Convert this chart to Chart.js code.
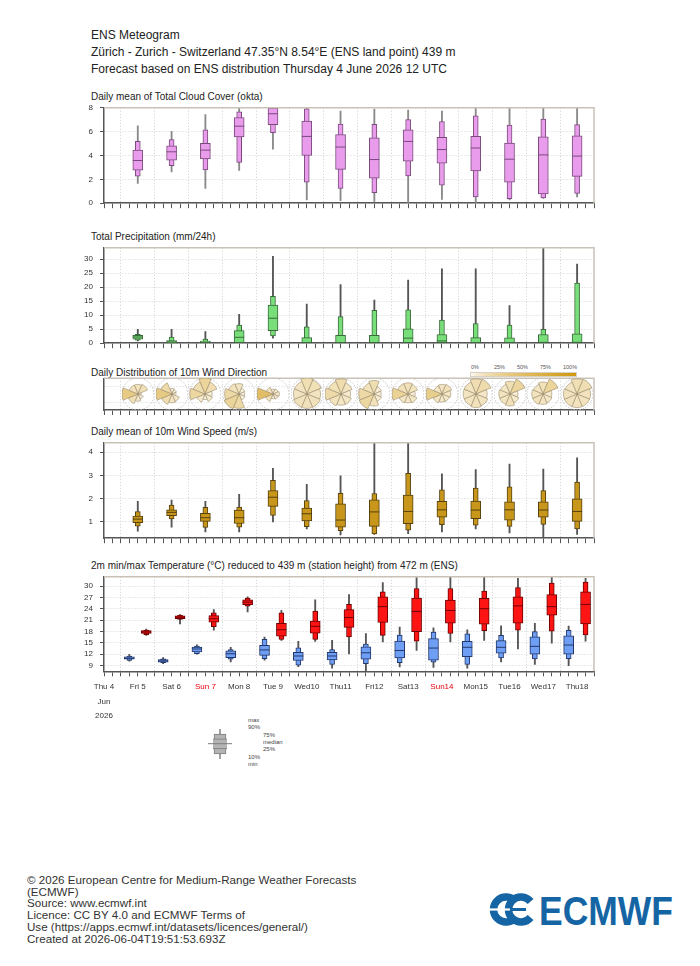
<!DOCTYPE html>
<html><head><meta charset="utf-8">
<script src="https://cdn.jsdelivr.net/npm/chart.js@4/dist/chart.umd.min.js"></script>
<style>
body{margin:0;background:#fff;width:700px;height:966px;position:relative;overflow:hidden;font-family:"Liberation Sans",Arial,Helvetica,sans-serif;color:#222}
.t{position:absolute;white-space:nowrap}
canvas{position:absolute}
</style></head><body>
<div class="t" style="left:91px;top:28px;font-size:12px;line-height:14px">ENS Meteogram</div>
<div class="t" style="left:91px;top:45px;font-size:12px;line-height:14px">Zürich - Zurich - Switzerland 47.35°N 8.54°E (ENS land point) 439 m</div>
<div class="t" style="left:91px;top:62px;font-size:12px;line-height:14px">Forecast based on ENS distribution Thursday 4 June 2026 12 UTC</div>

<div class="t" style="left:91px;top:91px;font-size:10px;line-height:12px">Daily mean of Total Cloud Cover (okta)</div>
<div class="t" style="left:91px;top:231px;font-size:10px;line-height:12px">Total Precipitation (mm/24h)</div>
<div class="t" style="left:91px;top:367px;font-size:10px;line-height:12px">Daily Distribution of 10m Wind Direction</div>
<div class="t" style="left:91px;top:426px;font-size:10px;line-height:12px">Daily mean of 10m Wind Speed (m/s)</div>
<div class="t" style="left:91px;top:560px;font-size:10px;line-height:12px">2m min/max Temperature (°C) reduced to 439 m (station height) from 472 m (ENS)</div>

<!-- wind direction colour legend -->
<div id="cbar" style="position:absolute;left:470px;top:372px;width:105px;height:3px;border:0.5px solid #d8d0c0"></div>
<div class="t" style="left:471px;top:364px;font-size:5.5px;line-height:6px;color:#555">0%</div>
<div class="t" style="left:494px;top:364px;font-size:5.5px;line-height:6px;color:#555">25%</div>
<div class="t" style="left:517px;top:364px;font-size:5.5px;line-height:6px;color:#555">50%</div>
<div class="t" style="left:540px;top:364px;font-size:5.5px;line-height:6px;color:#555">75%</div>
<div class="t" style="left:563px;top:364px;font-size:5.5px;line-height:6px;color:#555">100%</div>

<!-- box legend labels -->
<div class="t" style="left:248px;top:717px;font-size:6px;line-height:6px;color:#444">max</div>
<div class="t" style="left:248px;top:724px;font-size:6px;line-height:6px;color:#444">90%</div>
<div class="t" style="left:263px;top:732px;font-size:6px;line-height:6px;color:#444">75%</div>
<div class="t" style="left:263px;top:739px;font-size:6px;line-height:6px;color:#444">median</div>
<div class="t" style="left:263px;top:746px;font-size:6px;line-height:6px;color:#444">25%</div>
<div class="t" style="left:248px;top:754px;font-size:6px;line-height:6px;color:#444">10%</div>
<div class="t" style="left:248px;top:761px;font-size:6px;line-height:6px;color:#444">min</div>

<div class="t" style="left:27px;top:874px;font-size:11.6px;line-height:11.7px;color:#333">© 2026 European Centre for Medium-Range Weather Forecasts<br>(ECMWF)<br>Source: www.ecmwf.int<br>Licence: CC BY 4.0 and ECMWF Terms of<br>Use (https://apps.ecmwf.int/datasets/licences/general/)<br>Created at 2026-06-04T19:51:53.693Z</div>

<svg style="position:absolute;left:488px;top:890px" width="190" height="40" viewBox="0 0 190 40">
<g fill="none" stroke="#1565a5" stroke-width="7.5">
<path d="M27.6 11.5 A12.5 12.5 0 1 0 27.6 27.5"/>
<path d="M42.6 11.5 A12.5 12.5 0 1 0 42.6 27.5"/>
</g>
<line x1="1" y1="19.5" x2="22" y2="19.5" stroke="#fff" stroke-width="2.2"/>
<line x1="22" y1="19.5" x2="38" y2="19.5" stroke="#1565a5" stroke-width="3"/>
<text x="51" y="35" font-family="Liberation Sans, Arial" font-weight="bold" font-size="40" fill="#1565a5" textLength="134" lengthAdjust="spacingAndGlyphs">ECMWF</text>
</svg>

<script>
// ---------------- DATA ----------------
const dayLabels = ['Thu 4','Fri 5','Sat 6','Sun 7','Mon 8','Tue 9','Wed10','Thu11','Fri12','Sat13','Sun14','Mon15','Tue16','Wed17','Thu18'];
const monthLabel = 'Jun';
const yearLabel = '2026';
// time in days after Thu 4 June 12 UTC
const boxDays  = [1,2,3,4,5,6,7,8,9,10,11,12,13,14];
const tminTimes = [0.75,1.75,2.75,3.75,4.75,5.75,6.75,7.75,8.75,9.75,10.75,11.75,12.75,13.75];
const tmaxTimes = [1.25,2.25,3.25,4.25,5.25,6.25,7.25,8.25,9.25,10.25,11.25,12.25,13.25,14.25];

const cloudMin = [1.65,2.62,1.23,2.75,4.53,0.27,0.21,0.15,0.0,0.32,0.05,0.27,0.4,0.53];
const cloudP10 = [2.27,3.14,2.8,3.43,5.91,1.76,1.23,0.89,2.28,1.52,0.53,0.39,0.45,0.81];
const cloudP25 = [2.78,3.61,3.72,5.55,6.59,4.0,2.83,2.09,3.53,3.35,2.7,1.76,0.78,2.25];
const cloudMed = [3.58,4.31,4.45,6.46,7.5,5.6,4.71,3.66,5.18,4.5,4.63,3.69,4.05,3.95];
const cloudP75 = [4.45,4.81,5.02,7.19,7.98,6.88,5.76,5.49,6.15,5.52,5.6,5.05,5.57,5.65];
const cloudP90 = [5.18,5.33,6.15,7.66,8.0,7.92,6.64,6.62,7.01,6.85,7.32,6.56,7.06,6.59];
const cloudMax = [6.49,6.02,7.43,8.0,8.0,8.0,7.72,7.9,7.8,7.72,8.0,7.95,8.0,8.0];

const precMin = [0.8,0,0,0,1.8,0,0,0,0,0,0,0,0,0];
const precP10 = [1.1,0,0,0,2.6,0,0,0,0,0,0,0,0,0];
const precP25 = [1.4,0.05,0,0,4.5,0,0,0,0,0,0,0,0,0];
const precMed = [2.2,0.4,0.3,2.1,8.9,0.2,0.2,0.2,1.8,0.8,0.2,0.2,0.3,0.3];
const precP75 = [2.8,0.9,0.8,4.5,13.6,2.0,2.8,2.8,5.1,3.1,2.0,1.9,3.1,3.3];
const precP90 = [3.2,2.2,1.5,6.5,16.7,5.8,9.5,11.7,11.9,8.2,7.0,6.5,4.9,21.4];
const precMax = [4.9,4.9,4.1,10.3,31.0,13.9,20.9,15.4,22.5,26.5,26.5,13.4,34.0,28.2];

const wsMin = [0.6,0.77,0.57,0.57,1.0,0.7,0.44,0.46,0.5,0.57,0.7,0.53,0.3,0.46];
const wsP10 = [0.82,1.13,0.76,0.77,1.28,0.8,0.62,0.48,0.64,0.88,0.86,0.81,0.89,0.7];
const wsP25 = [0.97,1.27,1.02,0.93,1.67,1.04,0.77,0.81,0.92,1.2,1.14,1.08,1.2,1.02];
const wsMed = [1.12,1.41,1.18,1.18,2.06,1.35,1.08,1.43,1.45,1.52,1.51,1.52,1.51,1.45];
const wsP75 = [1.25,1.52,1.37,1.51,2.35,1.59,1.78,1.95,2.15,1.88,1.9,1.86,1.86,1.99];
const wsP90 = [1.44,1.72,1.63,1.64,2.79,1.92,2.23,2.22,3.09,2.38,2.45,2.51,2.35,2.71];
const wsMax = [1.88,1.94,1.88,2.19,3.3,2.61,2.98,4.4,4.4,3.07,3.25,3.49,3.27,3.75];

const tnMin = [10.2,9.5,12.0,10.0,10.45,8.75,8.3,7.0,8.65,8.5,8.3,10.0,9.35,9.0];
const tnP10 = [10.4,9.77,12.15,10.7,10.85,9.15,9.3,9.5,9.8,9.9,9.3,11.05,10.8,10.85];
const tnP25 = [10.7,9.93,12.65,11.1,11.7,10.35,10.5,10.7,11.05,10.45,11.4,12.3,12.05,12.05];
const tnMed = [10.95,10.27,13.4,12.15,13.15,11.55,11.55,12.4,13.0,13.65,13.85,13.85,14.1,14.45];
const tnP75 = [11.3,10.6,13.9,12.9,14.4,12.55,12.55,14.0,15.5,16.15,15.4,15.6,16.65,16.9];
const tnP90 = [11.55,10.8,14.2,13.25,15.95,13.7,13.25,14.7,17.1,17.9,17.4,17.0,18.0,18.35];
const tnMax = [11.96,11.1,14.5,13.85,16.55,15.4,15.7,17.5,19.2,19.0,18.5,19.55,20.2,19.45];

const txMin = [17.0,20.05,18.35,23.2,15.7,15.4,12.1,15.3,13.0,15.3,15.7,13.4,14.95,15.5];
const txP10 = [17.2,21.25,19.3,24.7,15.95,15.95,16.6,17.0,15.5,17.5,18.25,18.35,18.1,17.1];
const txP25 = [17.5,21.4,20.5,25.1,16.8,17.6,19.1,20.4,18.0,20.2,19.95,20.2,22.35,20.05];
const txMed = [17.9,21.8,21.4,25.8,18.5,19.4,21.75,24.6,23.35,23.6,24.05,24.8,24.6,25.2];
const txP75 = [18.26,22.2,22.27,26.4,20.2,20.8,23.8,27.2,26.9,26.35,26.8,27.2,27.8,28.55];
const txP90 = [18.4,22.35,23.0,26.9,23.0,23.4,25.2,28.5,29.4,29.4,28.7,29.65,30.85,31.1];
const txMax = [18.7,22.5,23.8,27.2,23.6,26.4,27.8,31.0,32.3,32.5,32.5,32.1,32.5,32.1];

// wind direction frequency (%) per sector, one value per day
const dirLabels = ['N','NE','E','SE','S','SW','W','NW'];
const dirN  = [12.3,4.3,24.6,10.6,4.4,15.4,17.5,16.2,13.5,11.1,15.9,15.2,13.9,14.7];
const dirNE = [14.4,3.1,15.8,4.0,6.0,13.9,10.9,5.6,11.6,13.0,17.6,23.7,24.7,16.2];
const dirE  = [1.4,2.2,5.0,3.1,7.9,11.1,7.0,4.5,5.6,9.3,8.6,5.9,7.5,11.7];
const dirSE = [4.2,8.7,6.2,4.0,6.0,12.5,9.5,5.6,9.9,7.7,11.3,8.5,8.9,11.7];
const dirS  = [6.9,10.5,3.0,20.4,4.4,12.5,9.5,12.6,8.3,7.7,12.7,13.3,10.4,11.7];
const dirSW = [14.4,17.0,7.5,25.2,12.3,12.5,12.4,22.5,9.9,11.1,11.3,11.6,12.1,11.7];
const dirW  = [34.1,34.7,22.2,20.4,49.1,11.1,19.3,20.3,27.6,30.8,11.3,11.6,12.1,11.7];
const dirNW = [12.3,19.5,15.8,12.3,9.9,11.1,14.0,12.6,13.5,9.3,11.3,10.0,10.4,10.4];

// legend box quantiles (illustrative)
const legendQuantiles = [0,17,34,51,67,83,100];

// tick sets
const cloudTicks = [0,2,4,6,8];
const precTicks = [0,5,10,15,20,25,30];
const wsTicks = [1,2,3,4];
const tempTicks = [9,12,15,18,21,24,27,30];

// ---------------- CHARTS ----------------
const FAMILY = '"Liberation Sans", Arial, Helvetica, sans-serif';
Chart.defaults.font.family = FAMILY;
Chart.defaults.animation = false;
Chart.defaults.responsive = false;
Chart.defaults.maintainAspectRatio = false;
Chart.defaults.plugins.legend.display = false;
Chart.defaults.plugins.tooltip.enabled = false;

const X_MIN = 0, X_MAX = 14.5, AREA_LEFT = 104, AREA_RIGHT = 594, W = 700;
const xTickVals = [];
for (let q = 0; q <= X_MAX * 4; q++) xTickVals.push(q / 4);

function makeCanvas(left, top, w, h) {
  const c = document.createElement('canvas');
  c.width = w; c.height = h;
  c.style.left = left + 'px'; c.style.top = top + 'px';
  c.style.width = w + 'px'; c.style.height = h + 'px';
  document.body.appendChild(c);
  return c;
}

const framePlugin = {
  id: 'frame',
  afterDraw(chart) {
    const {ctx, chartArea: a} = chart;
    ctx.save();
    ctx.strokeStyle = '#c9c2b6';
    ctx.lineWidth = 1.5;
    ctx.beginPath();
    ctx.moveTo(a.left, a.top); ctx.lineTo(a.right, a.top); ctx.lineTo(a.right, a.bottom);
    ctx.stroke();
    ctx.restore();
  }
};

function tickLabel(v) {
  const i = Math.round(v);
  if (Math.abs(v - i) > 1e-6 || i < 0 || i >= dayLabels.length) return '';
  return i === 0 ? [dayLabels[0], monthLabel, yearLabel] : dayLabels[i];
}
function isSunday(v) {
  const i = Math.round(v);
  return Math.abs(v - i) < 1e-6 && i >= 0 && i < dayLabels.length && dayLabels[i].startsWith('Sun');
}

function xScale(showLabels, axisH) {
  return {
    type: 'linear', min: X_MIN, max: X_MAX, offset: false,
    afterBuildTicks: s => { s.ticks = xTickVals.map(v => ({value: v})); },
    afterFit: s => { s.height = axisH; },
    grid: {
      offset: false, drawTicks: true, tickLength: 5, tickWidth: 1, tickColor: '#555', lineWidth: 1,
      color: c => (c.tick && Math.abs((c.tick.value % 1) - 0.5) < 1e-6 && c.tick.value < X_MAX) ? '#cfcfcf' : 'rgba(0,0,0,0)'
    },
    border: {display: true, color: '#555', width: 1.5, dash: [1, 2]},
    ticks: {
      display: showLabels, autoSkip: false, maxRotation: 0, minRotation: 0, padding: 3.5,
      font: {size: 8, lineHeight: 1.8},
      color: c => (c.tick && isSunday(c.tick.value)) ? '#e8000b' : '#333',
      callback: v => tickLabel(v)
    }
  };
}

function yScale(min, max, ticks, showLabels) {
  return {
    type: 'linear', min, max,
    afterBuildTicks: s => { s.ticks = ticks.map(v => ({value: v})); },
    afterFit: s => { s.width = AREA_LEFT; },
    grid: {color: '#d4d4d4', lineWidth: 1, drawTicks: showLabels, tickLength: 4, tickColor: '#555'},
    border: {display: true, color: '#555', width: 1.5, dash: [1, 2]},
    ticks: {display: showLabels, padding: 7, font: {size: 8}, color: '#333', callback: v => String(v)}
  };
}

function boxSets(s) {
  const pts = (lo, hi) => s.x.map((x, i) => ({x, y: [lo[i], hi[i]]}));
  return [
    {type: 'bar', data: pts(s.min, s.max), backgroundColor: s.whisker, borderWidth: 0, barThickness: s.wW || 1.2, grouped: false, order: 4},
    {type: 'bar', data: pts(s.p10, s.p90), backgroundColor: s.fill, borderColor: s.border, borderWidth: 1, borderSkipped: false, barThickness: s.oW || 5, grouped: false, order: 3},
    {type: 'bar', data: pts(s.p25, s.p75), backgroundColor: s.fill, borderColor: s.border, borderWidth: 1, borderSkipped: false, barThickness: s.iW || 10, grouped: false, order: 2},
    {type: 'line', data: s.x.map((x, i) => ({x, y: s.med[i]})), showLine: false, pointStyle: 'line',
     pointRadius: (s.iW || 10) / 2, pointHoverRadius: (s.iW || 10) / 2, pointBorderColor: s.border, pointBorderWidth: 1, order: 1}
  ];
}

function panel(o) {
  const top = Math.floor(o.areaTop) - 8;
  const H = Math.ceil(o.areaBottom - top + o.axisH);
  const axisH = H - (o.areaBottom - top);
  const cv = makeCanvas(0, top, W, H);
  const chart = new Chart(cv, {
    type: 'bar',
    data: {datasets: o.datasets},
    options: {
      layout: {padding: {top: o.areaTop - top, right: W - AREA_RIGHT, left: 0, bottom: 0}},
      scales: {
        x: xScale(!!o.showLabels, axisH),
        y: yScale(o.yMin, o.yMax, o.yTicks, o.showYLabels !== false)
      }
    },
    plugins: [framePlugin]
  });
  return {chart, top};
}

// Cloud cover
panel({areaTop: 104.7, areaBottom: 206.7, axisH: 8, yMin: 0, yMax: 8, yTicks: cloudTicks,
  datasets: boxSets({x: boxDays, min: cloudMin, p10: cloudP10, p25: cloudP25, med: cloudMed, p75: cloudP75, p90: cloudP90, max: cloudMax,
    fill: '#ea9cec', border: '#7a4a7c', whisker: '#8a8a8a'})});

// Precipitation
panel({areaTop: 244.7, areaBottom: 346.7, axisH: 8, yMin: 0, yMax: 34, yTicks: precTicks,
  datasets: boxSets({x: boxDays, min: precMin, p10: precP10, p25: precP25, med: precMed, p75: precP75, p90: precP90, max: precMax,
    fill: '#78de7a', border: '#3b6a3b', whisker: '#555'})});

// Wind direction strip
const strip = panel({areaTop: 378.3, areaBottom: 410, axisH: 8, yMin: 0, yMax: 1, yTicks: [0.25, 0.75], showYLabels: false, datasets: []});

// Wind speed
panel({areaTop: 439.7, areaBottom: 541.7, axisH: 8, yMin: 0.3, yMax: 4.4, yTicks: wsTicks,
  datasets: boxSets({x: boxDays, min: wsMin, p10: wsP10, p25: wsP25, med: wsMed, p75: wsP75, p90: wsP90, max: wsMax,
    fill: '#c8961a', border: '#55420f', whisker: '#555'})});

// Temperature
panel({areaTop: 573, areaBottom: 671.3, axisH: 52, yMin: 7.5, yMax: 32.5, yTicks: tempTicks, showLabels: true,
  datasets: boxSets({x: tminTimes, min: tnMin, p10: tnP10, p25: tnP25, med: tnMed, p75: tnP75, p90: tnP90, max: tnMax,
      fill: '#6f9ef5', border: '#23386b', whisker: '#555'})
    .concat(boxSets({x: tmaxTimes, min: txMin, p10: txP10, p25: txP25, med: txMed, p75: txP75, p90: txP90, max: txMax,
      fill: '#ff1414', border: '#6e0000', whisker: '#555'}))});

// Wind roses (sector length ~ sqrt of frequency, colour ~ frequency), placed on the strip's own x scale
const C0 = [252, 249, 241], C1 = [207, 152, 12];
function freqColor(v) {
  const t = Math.pow(Math.max(0, Math.min(1, v / 100)), 0.7);
  const c = C0.map((a, i) => Math.round(a + (C1[i] - a) * t));
  return 'rgb(' + c.join(',') + ')';
}
document.getElementById('cbar').style.background =
  'linear-gradient(to right,' + [0, 5, 12, 25, 40, 60, 80, 100].map(p => freqColor(p) + ' ' + p + '%').join(',') + ')';

const sx = strip.chart.scales.x, sca = strip.chart.chartArea;
const roseCY = strip.top + (sca.top + sca.bottom) / 2;
boxDays.forEach((d, k) => {
  const freq = [dirN[k], dirNE[k], dirE[k], dirSE[k], dirS[k], dirSW[k], dirW[k], dirNW[k]];
  const len = freq.map(Math.sqrt);
  const cx = sx.getPixelForValue(d);
  const c = makeCanvas(Math.round(cx - 16), Math.round(roseCY - 16), 32, 32);
  new Chart(c, {
    type: 'polarArea',
    data: {labels: dirLabels, datasets: [{data: len, backgroundColor: freq.map(freqColor), borderColor: 'rgba(150,135,105,0.8)', borderWidth: 0.7}]},
    options: {
      layout: {padding: 0},
      scales: {r: {min: 0, max: Math.max(...len), startAngle: -22.5,
        afterBuildTicks: s => { s.ticks = [{value: 0}, {value: s.max}]; },
        ticks: {display: false}, pointLabels: {display: false}, angleLines: {display: false},
        grid: {circular: true, color: '#c4c4c4', lineWidth: 1}, border: {dash: [1.5, 1.5]}}}
    }
  });
});

// Box legend
(function () {
  const cv = makeCanvas(200, 716, 40, 56);
  new Chart(cv, {
    type: 'bar',
    data: {labels: ['legend'], datasets: boxSets({x: ['legend'],
      min: [legendQuantiles[0]], p10: [legendQuantiles[1]], p25: [legendQuantiles[2]], med: [legendQuantiles[3]],
      p75: [legendQuantiles[4]], p90: [legendQuantiles[5]], max: [legendQuantiles[6]],
      fill: '#b4b4b4', border: '#7d7d7d', whisker: '#9a9a9a', wW: 1.2, oW: 12, iW: 24})},
    options: {
      layout: {padding: {top: 5.7, bottom: 6, left: 0, right: 0}},
      scales: {x: {type: 'category', display: false}, y: {min: 0, max: 100, display: false}}
    }
  });
})();
</script>
</body></html>
